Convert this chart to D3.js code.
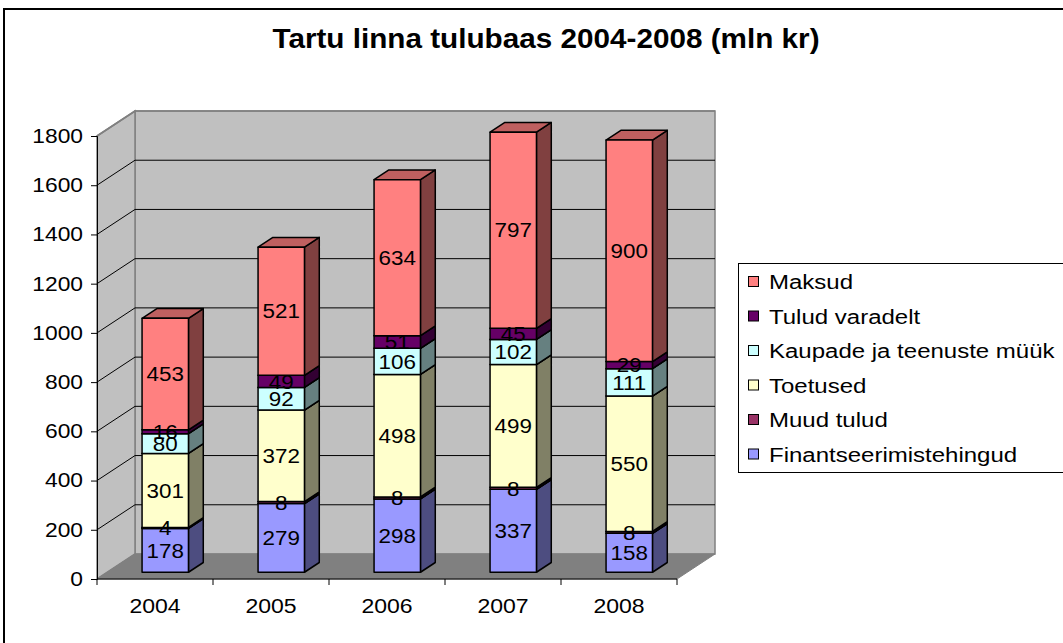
<!DOCTYPE html>
<html>
<head>
<meta charset="utf-8">
<script src="https://cdn.jsdelivr.net/npm/d3@7"></script>
<style>
  body { margin: 0; background: #fff; }
  text { font-family: "Liberation Sans", Arial, sans-serif; }
</style>
</head>
<body>
<div id="chart"></div>
<script>
// data
var years = ["2004", "2005", "2006", "2007", "2008"];
var seriesNames = ["Finantseerimistehingud", "Muud tulud", "Toetused",
                   "Kaupade ja teenuste müük", "Tulud varadelt", "Maksud"];
var finants = [178, 279, 298, 337, 158];
var muud    = [4, 8, 8, 8, 8];
var toetus  = [301, 372, 498, 499, 550];
var kaubad  = [80, 92, 106, 102, 111];
var varad   = [16, 49, 51, 45, 29];
var maksud  = [453, 521, 634, 797, 900];
var yTicks  = [0, 200, 400, 600, 800, 1000, 1200, 1400, 1600, 1800];
var colors  = ["#9999ff", "#993366", "#ffffcc", "#ccffff", "#660066", "#ff8080"];

var seriesVals = [finants, muud, toetus, kaubad, varad, maksud];

var W = 1063, H = 643;
var svg = d3.select("#chart").append("svg").attr("width", W).attr("height", H);

// widen text a bit, the original is drawn horizontally stretched
function stretch(sel, k) {
  sel.each(function() {
    var w = this.getComputedTextLength();
    d3.select(this).attr("textLength", w * k).attr("lengthAdjust", "spacingAndGlyphs");
  });
}

// outer border
svg.append("rect").attr("x", 4).attr("y", 9).attr("width", W + 10).attr("height", H + 10)
  .attr("fill", "#fff").attr("stroke", "#000").attr("stroke-width", 2);

svg.append("text").attr("x", 546).attr("y", 48).attr("text-anchor", "middle")
  .attr("font-size", 28).attr("font-weight", "bold").text("Tartu linna tulubaas 2004-2008 (mln kr)")
  .call(stretch, 1.06);

// 3d frame
var x0 = 97, x1 = 677;
var DX = 38, DY = -25;   // full depth offset
var x = d3.scaleBand().domain(years).range([x0, x1]).padding(0);
var y = d3.scaleLinear().domain([0, 1800]).range([579, 136]);

function pt(px, py, d) { return [px + DX * d, py + DY * d]; }
function poly(pts) { return pts.map(function(p){ return p.join(","); }).join(" "); }

var g = svg.append("g");
var yTop = y(1800), yBot = y(0);

// back wall
g.append("polygon").attr("points", poly([pt(x0, yTop, 1), pt(x1, yTop, 1), pt(x1, yBot, 1), pt(x0, yBot, 1)]))
  .attr("fill", "#c0c0c0").attr("stroke", "#808080").attr("stroke-width", 1.5);
// side wall
g.append("polygon").attr("points", poly([pt(x0, yTop, 0), pt(x0, yTop, 1), pt(x0, yBot, 1), pt(x0, yBot, 0)]))
  .attr("fill", "#c0c0c0").attr("stroke", "#808080").attr("stroke-width", 1.5);
// floor
g.append("polygon").attr("points", poly([pt(x0, yBot, 0), pt(x0, yBot, 1), pt(x1, yBot, 1), pt(x1, yBot, 0)]))
  .attr("fill", "#808080").attr("stroke", "#808080").attr("stroke-width", 1);

// gridlines
yTicks.forEach(function(t) {
  if (t === 0) return;
  var yy = y(t);
  var sw = t === 1800 ? "#808080" : "#000";
  g.append("polyline").attr("points", poly([pt(x0, yy, 0), pt(x0, yy, 1), pt(x1, yy, 1)]))
    .attr("fill", "none").attr("stroke", sw).attr("stroke-width", t === 1800 ? 1.5 : 1);
});

// axes
var yAxis = d3.axisLeft(y).tickValues(yTicks).tickFormat(d3.format("d")).tickSize(6).tickPadding(8);
var ya = svg.append("g").attr("transform", "translate(" + x0 + ",0)").call(yAxis);
ya.selectAll("text").attr("font-size", 20).attr("fill", "#000")
  .style("font-family", "'Liberation Sans', Arial, sans-serif").call(stretch, 1.14);
ya.selectAll("line,path").attr("stroke", "#000");

svg.append("line").attr("x1", x0).attr("x2", x1).attr("y1", yBot).attr("y2", yBot)
  .attr("stroke", "#000").attr("stroke-width", 1);
svg.selectAll(".xtick").data(years.concat(["end"])).enter().append("line")
  .attr("x1", function(d, i){ return x0 + i * x.step(); })
  .attr("x2", function(d, i){ return x0 + i * x.step(); })
  .attr("y1", yBot).attr("y2", yBot + 6).attr("stroke", "#000");
svg.selectAll(".xlab").data(years).enter().append("text")
  .attr("x", function(d){ return x(d) + x.bandwidth() / 2; })
  .attr("y", 613).attr("text-anchor", "middle").attr("font-size", 20).text(function(d){ return d; })
  .call(stretch, 1.15);

// bars
var dF = 0.27, dB = 0.66;
var bw = x.bandwidth() * 0.4;
function shade(c, k) {
  var r = d3.rgb(c);
  return d3.rgb(r.r * k, r.g * k, r.b * k).toString();
}
var labels = [];
years.forEach(function(yr, i) {
  var bx0 = x(yr) + (x.bandwidth() - bw) / 2, bx1 = bx0 + bw;
  var cum = 0;
  seriesVals.forEach(function(vals, s) {
    var v = vals[i];
    var ya0 = y(cum), ya1 = y(cum + v);
    var c = colors[s];
    var front = [pt(bx0, ya1, dF), pt(bx1, ya1, dF), pt(bx1, ya0, dF), pt(bx0, ya0, dF)];
    var side = [pt(bx1, ya1, dF), pt(bx1, ya1, dB), pt(bx1, ya0, dB), pt(bx1, ya0, dF)];
    var top = [pt(bx0, ya1, dF), pt(bx0, ya1, dB), pt(bx1, ya1, dB), pt(bx1, ya1, dF)];
    g.append("polygon").attr("points", poly(side)).attr("fill", shade(c, 0.5))
      .attr("stroke", "#000").attr("stroke-width", 1.5).attr("stroke-linejoin", "round");
    g.append("polygon").attr("points", poly(top)).attr("fill", shade(c, 0.75))
      .attr("stroke", "#000").attr("stroke-width", 1.5).attr("stroke-linejoin", "round");
    g.append("polygon").attr("points", poly(front)).attr("fill", c)
      .attr("stroke", "#000").attr("stroke-width", 1.5).attr("stroke-linejoin", "round");
    var m = pt((bx0 + bx1) / 2, y(cum + v / 2), dF);
    labels.push({x: m[0], y: m[1], t: v});
    cum += v;
  });
});
svg.selectAll(".blab").data(labels).enter().append("text")
  .attr("x", function(d){ return d.x; }).attr("y", function(d){ return d.y; })
  .attr("dy", "0.36em").attr("text-anchor", "middle").attr("font-size", 20)
  .text(function(d){ return d.t; })
  .call(stretch, 1.12);

// legend
var lg = svg.append("g");
lg.append("rect").attr("x", 738.5).attr("y", 263.5).attr("width", 400).attr("height", 209)
  .attr("fill", "#fff").attr("stroke", "#000").attr("stroke-width", 1);
var legOrder = d3.range(seriesNames.length).reverse();
legOrder.forEach(function(s, j) {
  var ly = 282 + j * 34.5;
  lg.append("rect").attr("x", 748.5).attr("y", ly - 5.5).attr("width", 10).attr("height", 10)
    .attr("fill", colors[s]).attr("stroke", "#000").attr("stroke-width", 1);
  lg.append("text").attr("x", 769).attr("y", ly).attr("dy", "0.36em").attr("font-size", 20)
    .text(seriesNames[s]).call(stretch, 1.2);
});
</script>
</body>
</html>
